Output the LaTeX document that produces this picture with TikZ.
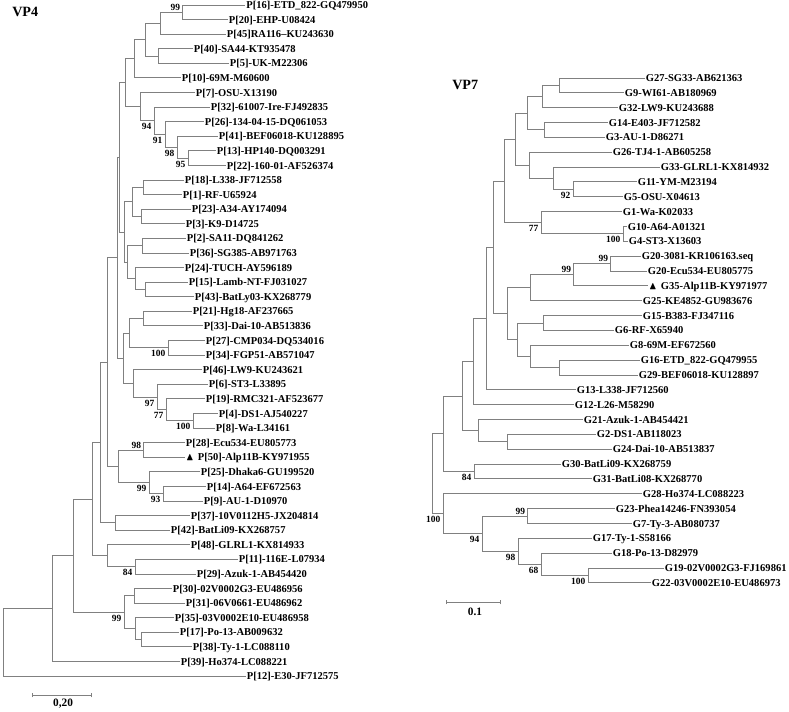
\documentclass[tikz,border=0pt]{standalone}
\usepackage{fontspec}
\usepackage{amssymb}
\setmainfont{Liberation Serif}
\definecolor{branchgrey}{HTML}{808080}

\begin{document}
\begin{tikzpicture}[x=0.75pt,y=-0.75pt,
  branch/.style={draw=branchgrey, line width=0.75pt},
  taxon/.style={anchor=west, inner xsep=1pt, inner ysep=0pt, outer sep=0pt, text height=5.3pt, text depth=0pt, font=\fontsize{7.9}{9}\selectfont\bfseries},
  bootup/.style={anchor=south east, inner sep=1.2pt, font=\fontsize{7.1}{8}\selectfont\bfseries},
  bootdown/.style={anchor=north east, inner sep=1.8pt, font=\fontsize{7.1}{8}\selectfont\bfseries},
  treetitle/.style={anchor=west, inner sep=0pt, font=\fontsize{10.6}{12}\selectfont\bfseries},
  scalelabel/.style={inner sep=0pt, font=\fontsize{8.5}{10}\selectfont\bfseries}]

    \useasboundingbox (0,0) rectangle (789,711);

    \node[treetitle] (vp4) at (12,12) {VP4};
    \node[treetitle] (vp7) at (452,85) {VP7};

    \begin{scope}[y=-10.9425pt, yshift=-3.75pt]
    \node[taxon] (p16) at (245,0) {P[16]-ETD\_822-GQ479950};
    \node[taxon] (p20) at (227.5,1) {P[20]-EHP-U08424};
    \node[taxon] (p45) at (225.5,2) {P[45]RA116--KU243630};
    \node[taxon] (p40) at (192.5,3) {P[40]-SA44-KT935478};
    \node[taxon] (p5) at (228.5,4) {P[5]-UK-M22306};
    \node[taxon] (p10) at (180.5,5) {P[10]-69M-M60600};
    \node[taxon] (p7) at (194.5,6) {P[7]-OSU-X13190};
    \node[taxon] (p32) at (209.5,7) {P[32]-61007-Ire-FJ492835};
    \node[taxon] (p26) at (203.5,8) {P[26]-134-04-15-DQ061053};
    \node[taxon] (p41) at (217.5,9) {P[41]-BEF06018-KU128895};
    \node[taxon] (p13) at (215.5,10) {P[13]-HP140-DQ003291};
    \node[taxon] (p22) at (225.5,11) {P[22]-160-01-AF526374};
    \node[taxon] (p18) at (183.5,12) {P[18]-L338-JF712558};
    \node[taxon] (p1) at (181.5,13) {P[1]-RF-U65924};
    \node[taxon] (p23) at (190.5,14) {P[23]-A34-AY174094};
    \node[taxon] (p3) at (184.5,15) {P[3]-K9-D14725};
    \node[taxon] (p2) at (185.5,16) {P[2]-SA11-DQ841262};
    \node[taxon] (p36) at (188.5,17) {P[36]-SG385-AB971763};
    \node[taxon] (p24) at (183.5,18) {P[24]-TUCH-AY596189};
    \node[taxon] (p15) at (187.5,19) {P[15]-Lamb-NT-FJ031027};
    \node[taxon] (p43) at (193.5,20) {P[43]-BatLy03-KX268779};
    \node[taxon] (p21) at (191.5,21) {P[21]-Hg18-AF237665};
    \node[taxon] (p33) at (202.5,22) {P[33]-Dai-10-AB513836};
    \node[taxon] (p27) at (204.5,23) {P[27]-CMP034-DQ534016};
    \node[taxon] (p34) at (204.5,24) {P[34]-FGP51-AB571047};
    \node[taxon] (p46) at (201.5,25) {P[46]-LW9-KU243621};
    \node[taxon] (p6) at (207.5,26) {P[6]-ST3-L33895};
    \node[taxon] (p19) at (204.5,27) {P[19]-RMC321-AF523677};
    \node[taxon] (p4) at (217.5,28) {P[4]-DS1-AJ540227};
    \node[taxon] (p8) at (214.5,29) {P[8]-Wa-L34161};
    \node[taxon] (p28) at (184.5,30) {P[28]-Ecu534-EU805773};
    \node[taxon] (p50) at (184.5,31) {$\blacktriangle$\hspace{3pt}P[50]-Alp11B-KY971955};
    \node[taxon] (p25) at (199.5,32) {P[25]-Dhaka6-GU199520};
    \node[taxon] (p14) at (205.5,33) {P[14]-A64-EF672563};
    \node[taxon] (p9) at (202.5,34) {P[9]-AU-1-D10970};
    \node[taxon] (p37) at (189.5,35) {P[37]-10V0112H5-JX204814};
    \node[taxon] (p42) at (169.5,36) {P[42]-BatLi09-KX268757};
    \node[taxon] (p48) at (189.5,37) {P[48]-GLRL1-KX814933};
    \node[taxon] (p11) at (237.5,38) {P[11]-116E-L07934};
    \node[taxon] (p29) at (195.5,39) {P[29]-Azuk-1-AB454420};
    \node[taxon] (p30) at (171.5,40) {P[30]-02V0002G3-EU486956};
    \node[taxon] (p31) at (184.5,41) {P[31]-06V0661-EU486962};
    \node[taxon] (p35) at (173.5,42) {P[35]-03V0002E10-EU486958};
    \node[taxon] (p17) at (178.5,43) {P[17]-Po-13-AB009632};
    \node[taxon] (p38) at (191.5,44) {P[38]-Ty-1-LC088110};
    \node[taxon] (p39) at (179.5,45) {P[39]-Ho374-LC088221};
    \node[taxon] (p12) at (245.5,46) {P[12]-E30-JF712575};

    \coordinate (l1) at (182,0.5);
    \coordinate (l2) at (160,1.25);
    \coordinate (l3) at (158,3.5);
    \coordinate (l4) at (145,2.375);
    \coordinate (l5) at (134,3.6875);
    \coordinate (l6) at (188,10.5);
    \coordinate (l7) at (177,9.75);
    \coordinate (l8) at (165,8.875);
    \coordinate (l9) at (154,7.9375);
    \coordinate (l10) at (140,6.96875);
    \coordinate (l11) at (125,5.328);
    \coordinate (l12) at (143,12.5);
    \coordinate (l13) at (141,14.5);
    \coordinate (l14) at (132,13.5);
    \coordinate (l15) at (142,16.5);
    \coordinate (l16) at (145,19.5);
    \coordinate (l17) at (135,18.75);
    \coordinate (l18) at (127,17.625);
    \coordinate (l19) at (124,15.5625);
    \coordinate (l20) at (119,10.445);
    \coordinate (l21) at (143,21.5);
    \coordinate (l22) at (168,23.5);
    \coordinate (l23) at (129,22.5);
    \coordinate (l24) at (193,28.5);
    \coordinate (l25) at (166,27.75);
    \coordinate (l26) at (157,26.875);
    \coordinate (l27) at (133,25.9375);
    \coordinate (l28) at (123,24.219);
    \coordinate (l29) at (117,17.332);
    \coordinate (l30) at (143,30.5);
    \coordinate (l31) at (163,33.5);
    \coordinate (l32) at (149,32.75);
    \coordinate (l33) at (118,31.625);
    \coordinate (l34) at (107,24.478);
    \coordinate (l35) at (115,35.5);
    \coordinate (l36) at (100,29.989);
    \coordinate (l37) at (135,38.5);
    \coordinate (l38) at (107,37.75);
    \coordinate (l39) at (92,33.87);
    \coordinate (l40) at (134,40.5);
    \coordinate (l41) at (141,43.5);
    \coordinate (l42) at (135,42.75);
    \coordinate (l43) at (124,41.625);
    \coordinate (l44) at (73,37.75);
    \coordinate (l45) at (52,41.375);
    \coordinate (l46) at (3,43.69);

    \draw[branch] (l1) |- (p16.west) (l1) |- (p20.west) (l2) |- (l1) (l2) |- (p45.west)
        (l3) |- (p40.west) (l3) |- (p5.west) (l4) |- (l2) (l4) |- (l3)
        (l5) |- (l4) (l5) |- (p10.west)
        (l6) |- (p13.west) (l6) |- (p22.west) (l7) |- (p41.west) (l7) |- (l6)
        (l8) |- (p26.west) (l8) |- (l7) (l9) |- (p32.west) (l9) |- (l8)
        (l10) |- (p7.west) (l10) |- (l9) (l11) |- (l5) (l11) |- (l10)
        (l12) |- (p18.west) (l12) |- (p1.west) (l13) |- (p23.west) (l13) |- (p3.west)
        (l14) |- (l12) (l14) |- (l13)
        (l15) |- (p2.west) (l15) |- (p36.west) (l16) |- (p15.west) (l16) |- (p43.west)
        (l17) |- (p24.west) (l17) |- (l16) (l18) |- (l15) (l18) |- (l17)
        (l19) |- (l14) (l19) |- (l18) (l20) |- (l11) (l20) |- (l19)
        (l21) |- (p21.west) (l21) |- (p33.west) (l22) |- (p27.west) (l22) |- (p34.west)
        (l23) |- (l21) (l23) |- (l22)
        (l24) |- (p4.west) (l24) |- (p8.west) (l25) |- (p19.west) (l25) |- (l24)
        (l26) |- (p6.west) (l26) |- (l25) (l27) |- (p46.west) (l27) |- (l26)
        (l28) |- (l23) (l28) |- (l27) (l29) |- (l20) (l29) |- (l28)
        (l30) |- (p28.west) (l30) |- (p50.west) (l31) |- (p14.west) (l31) |- (p9.west)
        (l32) |- (p25.west) (l32) |- (l31) (l33) |- (l30) (l33) |- (l32)
        (l34) |- (l29) (l34) |- (l33)
        (l35) |- (p37.west) (l35) |- (p42.west) (l36) |- (l34) (l36) |- (l35)
        (l37) |- (p11.west) (l37) |- (p29.west) (l38) |- (p48.west) (l38) |- (l37)
        (l39) |- (l36) (l39) |- (l38)
        (l40) |- (p30.west) (l40) |- (p31.west) (l41) |- (p17.west) (l41) |- (p38.west)
        (l42) |- (p35.west) (l42) |- (l41) (l43) |- (l40) (l43) |- (l42)
        (l44) |- (l39) (l44) |- (l43) (l45) |- (l44) (l45) |- (p39.west)
        (l46) |- (l45) (l46) |- (p12.west);

    \node[bootup] (bl1) at (l1) {99};
    \node[bootdown] (bl6) at (l6) {95};
    \node[bootdown] (bl7) at (l7) {98};
    \node[bootdown] (bl8) at (l8) {91};
    \node[bootdown] (bl9) at (l9) {94};
    \node[bootdown] (bl22) at (l22) {100};
    \node[bootdown] (bl24) at (l24) {100};
    \node[bootdown] (bl25) at (l25) {77};
    \node[bootdown] (bl26) at (l26) {97};
    \node[bootup] (bl30) at (l30) {98};
    \node[bootdown] (bl31) at (l31) {93};
    \node[bootdown] (bl32) at (l32) {99};
    \node[bootdown] (bl37) at (l37) {84};
    \node[bootdown] (bl43) at (l43) {99};
    \end{scope}

    \begin{scope}[y=-11.1375pt, yshift=-58.5pt]
    \node[taxon] (g27) at (644.5,0) {G27-SG33-AB621363};
    \node[taxon] (g9) at (623.5,1) {G9-WI61-AB180969};
    \node[taxon] (g32) at (617.5,2) {G32-LW9-KU243688};
    \node[taxon] (g14) at (607.5,3) {G14-E403-JF712582};
    \node[taxon] (g3) at (604.5,4) {G3-AU-1-D86271};
    \node[taxon] (g26) at (611.5,5) {G26-TJ4-1-AB605258};
    \node[taxon] (g33) at (659.5,6) {G33-GLRL1-KX814932};
    \node[taxon] (g11) at (636.5,7) {G11-YM-M23194};
    \node[taxon] (g5) at (622.5,8) {G5-OSU-X04613};
    \node[taxon] (g1) at (621.5,9) {G1-Wa-K02033};
    \node[taxon] (g10) at (626.5,10) {G10-A64-A01321};
    \node[taxon] (g4) at (627.5,11) {G4-ST3-X13603};
    \node[taxon] (g20a) at (640.5,12) {G20-3081-KR106163.seq};
    \node[taxon] (g20b) at (646.5,13) {G20-Ecu534-EU805775};
    \node[taxon] (g35) at (647.5,14) {$\blacktriangle$\hspace{3pt}G35-Alp11B-KY971977};
    \node[taxon] (g25) at (641.5,15) {G25-KE4852-GU983676};
    \node[taxon] (g15) at (641.5,16) {G15-B383-FJ347116};
    \node[taxon] (g6) at (613.5,17) {G6-RF-X65940};
    \node[taxon] (g8) at (628.5,18) {G8-69M-EF672560};
    \node[taxon] (g16) at (639.5,19) {G16-ETD\_822-GQ479955};
    \node[taxon] (g29) at (637.5,20) {G29-BEF06018-KU128897};
    \node[taxon] (g13) at (575.5,21) {G13-L338-JF712560};
    \node[taxon] (g12) at (573.5,22) {G12-L26-M58290};
    \node[taxon] (g21) at (582.5,23) {G21-Azuk-1-AB454421};
    \node[taxon] (g2) at (595.5,24) {G2-DS1-AB118023};
    \node[taxon] (g24) at (611.5,25) {G24-Dai-10-AB513837};
    \node[taxon] (g30) at (560.5,26) {G30-BatLi09-KX268759};
    \node[taxon] (g31) at (591.5,27) {G31-BatLi08-KX268770};
    \node[taxon] (g28) at (641.5,28) {G28-Ho374-LC088223};
    \node[taxon] (g23) at (614.5,29) {G23-Phea14246-FN393054};
    \node[taxon] (g7) at (631.5,30) {G7-Ty-3-AB080737};
    \node[taxon] (g17) at (591.5,31) {G17-Ty-1-S58166};
    \node[taxon] (g18) at (611.5,32) {G18-Po-13-D82979};
    \node[taxon] (g19) at (663.5,33) {G19-02V0002G3-FJ169861};
    \node[taxon] (g22) at (650.5,34) {G22-03V0002E10-EU486973};

    \coordinate (r1) at (559,0.5);
    \coordinate (r2) at (542,1.25);
    \coordinate (r3) at (544,3.5);
    \coordinate (r4) at (527,2.375);
    \coordinate (r5) at (573,7.5);
    \coordinate (r6) at (553,6.75);
    \coordinate (r7) at (529,5.875);
    \coordinate (r8) at (515,4.125);
    \coordinate (r9) at (623,10.5);
    \coordinate (r10) at (541,9.75);
    \coordinate (r11) at (504,6.9375);
    \coordinate (r12) at (610,12.5);
    \coordinate (r13) at (573,13.25);
    \coordinate (r14) at (530,14.125);
    \coordinate (r15) at (543,16.5);
    \coordinate (r16) at (559,19.5);
    \coordinate (r17) at (530,18.75);
    \coordinate (r18) at (517,17.625);
    \coordinate (r19) at (507,15.875);
    \coordinate (r20) at (493,11.406);
    \coordinate (r21) at (486,16.203);
    \coordinate (r22) at (473,19.102);
    \coordinate (r23) at (507,24.5);
    \coordinate (r24) at (478,23.75);
    \coordinate (r25) at (462,21.426);
    \coordinate (r26) at (474,26.5);
    \coordinate (r27) at (443,23.963);
    \coordinate (r28) at (527,29.5);
    \coordinate (r29) at (588,33.5);
    \coordinate (r30) at (541,32.75);
    \coordinate (r31) at (518,31.875);
    \coordinate (r32) at (482,30.6875);
    \coordinate (r33) at (443,29.344);
    \coordinate (r34) at (432,26.65);

    \draw[branch] (r1) |- (g27.west) (r1) |- (g9.west) (r2) |- (r1) (r2) |- (g32.west)
        (r3) |- (g14.west) (r3) |- (g3.west) (r4) |- (r2) (r4) |- (r3)
        (r5) |- (g11.west) (r5) |- (g5.west) (r6) |- (g33.west) (r6) |- (r5)
        (r7) |- (g26.west) (r7) |- (r6) (r8) |- (r4) (r8) |- (r7)
        (r9) |- (g10.west) (r9) |- (g4.west) (r10) |- (g1.west) (r10) |- (r9)
        (r11) |- (r8) (r11) |- (r10)
        (r12) |- (g20a.west) (r12) |- (g20b.west) (r13) |- (r12) (r13) |- (g35.west)
        (r14) |- (r13) (r14) |- (g25.west)
        (r15) |- (g15.west) (r15) |- (g6.west) (r16) |- (g16.west) (r16) |- (g29.west)
        (r17) |- (g8.west) (r17) |- (r16) (r18) |- (r15) (r18) |- (r17)
        (r19) |- (r14) (r19) |- (r18) (r20) |- (r11) (r20) |- (r19)
        (r21) |- (r20) (r21) |- (g13.west) (r22) |- (r21) (r22) |- (g12.west)
        (r23) |- (g2.west) (r23) |- (g24.west) (r24) |- (g21.west) (r24) |- (r23)
        (r25) |- (r22) (r25) |- (r24)
        (r26) |- (g30.west) (r26) |- (g31.west) (r27) |- (r25) (r27) |- (r26)
        (r28) |- (g23.west) (r28) |- (g7.west) (r29) |- (g19.west) (r29) |- (g22.west)
        (r30) |- (g18.west) (r30) |- (r29) (r31) |- (g17.west) (r31) |- (r30)
        (r32) |- (r28) (r32) |- (r31) (r33) |- (g28.west) (r33) |- (r32)
        (r34) |- (r27) (r34) |- (r33);

    \node[bootdown] (br5) at (r5) {92};
    \node[bootdown] (br9) at (r9) {100};
    \node[bootdown] (br10) at (r10) {77};
    \node[bootup] (br12) at (r12) {99};
    \node[bootup] (br13) at (r13) {99};
    \node[bootdown] (br26) at (r26) {84};
    \node[bootup] (br28) at (r28) {99};
    \node[bootdown] (br29) at (r29) {100};
    \node[bootdown] (br30) at (r30) {68};
    \node[bootdown] (br31) at (r31) {98};
    \node[bootdown] (br32) at (r32) {94};
    \node[bootdown] (br33) at (r33) {100};
    \end{scope}

    \coordinate (sb4a) at (32,695);
    \coordinate (sb4b) at (91,695);
    \draw[branch] (sb4a) -- (sb4b) ([yshift=-1.8pt]sb4a) -- ([yshift=1.8pt]sb4a) ([yshift=-1.8pt]sb4b) -- ([yshift=1.8pt]sb4b);
    \node[scalelabel] (sb4t) at (63,704) {0,20};

    \coordinate (sb7a) at (446,602);
    \coordinate (sb7b) at (500,602);
    \draw[branch] (sb7a) -- (sb7b) ([yshift=-1.8pt]sb7a) -- ([yshift=1.8pt]sb7a) ([yshift=-1.8pt]sb7b) -- ([yshift=1.8pt]sb7b);
    \node[scalelabel] (sb7t) at (475,612) {0.1};
\end{tikzpicture}
\end{document}
